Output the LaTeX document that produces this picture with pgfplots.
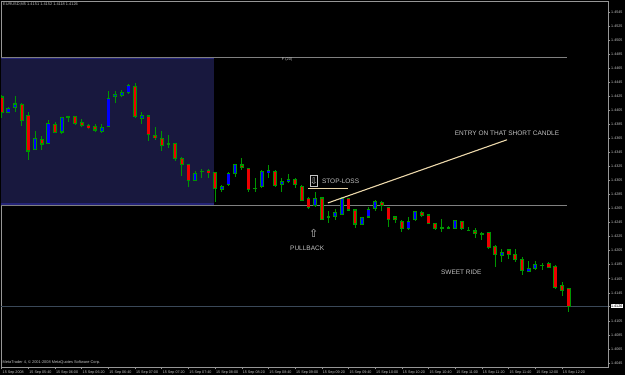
\documentclass[border=0pt]{standalone}
\usepackage{fontspec}
\setmainfont{Liberation Sans}
\newfontfamily\symfont{DejaVu Sans}
\usepackage{pgfplots}
\pgfplotsset{compat=1.18}
\usepackage{pgfplotstable}

\definecolor{cgreen}{RGB}{0,150,0}
\definecolor{cblue}{RGB}{0,0,255}
\definecolor{cred}{RGB}{235,0,0}
\definecolor{navy}{RGB}{24,24,62}
\definecolor{navyb}{RGB}{36,36,120}
\definecolor{fibgray}{RGB}{128,128,128}
\definecolor{bidline}{RGB}{58,72,88}
\definecolor{tanl}{RGB}{235,215,170}
\definecolor{txt}{RGB}{195,195,195}
\definecolor{axcol}{RGB}{150,150,150}

\pgfplotstableread{
i o h l c
0 1.4424 1.4427 1.4394 1.4402
1 1.4402 1.4410 1.4401 1.4408
2 1.4409 1.4425 1.4403 1.4414
3 1.4413 1.4415 1.4383 1.4390
4 1.4397 1.4403 1.4335 1.4347
5 1.4349 1.4376 1.4348 1.4365
6 1.4364 1.4368 1.4349 1.4357
7 1.4358 1.4391 1.4357 1.4386
8 1.4385 1.4389 1.4372 1.4374
9 1.4374 1.4396 1.4371 1.4395
10 1.4396 1.4397 1.4389 1.4396
11 1.4396 1.4397 1.4384 1.4386
12 1.4388 1.4393 1.4382 1.4383
13 1.4384 1.4385 1.4379 1.4380
14 1.4382 1.4385 1.4374 1.4377
15 1.4375 1.4385 1.4373 1.4381
16 1.4382 1.4432 1.4381 1.4422
17 1.4425 1.4432 1.4416 1.4428
18 1.4426 1.4434 1.4424 1.4430
19 1.4431 1.4442 1.4428 1.4441
20 1.4439 1.4444 1.4394 1.4396
21 1.4394 1.4402 1.4385 1.4398
22 1.4397 1.4397 1.4362 1.4370
23 1.4369 1.4381 1.4363 1.4366
24 1.4365 1.4375 1.4347 1.4355
25 1.4357 1.4370 1.4351 1.4357
26 1.4358 1.4358 1.4333 1.4337
27 1.4336 1.4338 1.4312 1.4328
28 1.4328 1.4328 1.4296 1.4305
29 1.4305 1.4318 1.4304 1.4315
30 1.4318 1.4322 1.4308 1.4318
31 1.4319 1.4322 1.4309 1.4316
32 1.4316 1.4316 1.4275 1.4294
33 1.4293 1.4299 1.4289 1.4296
34 1.4299 1.4317 1.4297 1.4315
35 1.4315 1.4329 1.4310 1.4328
36 1.4327 1.4337 1.4320 1.4323
37 1.4322 1.4322 1.4289 1.4292
38 1.4294 1.4308 1.4288 1.4294
39 1.4296 1.4320 1.4295 1.4318
40 1.4316 1.4327 1.4308 1.4319
41 1.4318 1.4320 1.4296 1.4298
42 1.4300 1.4309 1.4289 1.4304
43 1.4303 1.4315 1.4301 1.4307
44 1.4306 1.4308 1.4294 1.4299
45 1.4296 1.4299 1.4276 1.4277
46 1.4280 1.4281 1.4265 1.4267
47 1.4269 1.4289 1.4267 1.4279
48 1.4280 1.4281 1.4249 1.4250
49 1.4253 1.4261 1.4244 1.4253
50 1.4254 1.4265 1.4249 1.4259
51 1.4257 1.4282 1.4256 1.4279
52 1.4279 1.4280 1.4262 1.4263
53 1.4263 1.4264 1.4237 1.4243
54 1.4243 1.4253 1.4242 1.4252
55 1.4253 1.4267 1.4252 1.4264
56 1.4265 1.4277 1.4262 1.4275
57 1.4274 1.4276 1.4262 1.4270
58 1.4267 1.4267 1.4239 1.4249
59 1.4253 1.4255 1.4245 1.4249
60 1.4247 1.4249 1.4231 1.4237
61 1.4236 1.4253 1.4235 1.4247
62 1.4249 1.4262 1.4248 1.4261
63 1.4260 1.4261 1.4253 1.4255
64 1.4256 1.4257 1.4243 1.4244
65 1.4244 1.4245 1.4234 1.4237
66 1.4238 1.4250 1.4232 1.4238
67 1.4238 1.4240 1.4236 1.4238
68 1.4237 1.4249 1.4236 1.4248
69 1.4247 1.4248 1.4235 1.4237
70 1.4234 1.4239 1.4233 1.4234
71 1.4233 1.4237 1.4223 1.4229
72 1.4229 1.4232 1.4220 1.4229
73 1.4231 1.4232 1.4208 1.4210
74 1.4211 1.4213 1.4182 1.4200
75 1.4198 1.4208 1.4189 1.4203
76 1.4206 1.4207 1.4193 1.4200
77 1.4200 1.4207 1.4189 1.4192
78 1.4192 1.4196 1.4171 1.4177
79 1.4175 1.4190 1.4174 1.4180
80 1.4180 1.4190 1.4178 1.4186
81 1.4184 1.4187 1.4177 1.4184
82 1.4187 1.4189 1.4180 1.4181
83 1.4183 1.4184 1.4151 1.4152
84 1.4155 1.4160 1.4141 1.4148
85 1.4151 1.4152 1.4118 1.4126
}\candles

\begin{document}
\begin{tikzpicture}
\path[fill=black, use as bounding box] (-1pt,-8pt) rectangle (624pt,367pt);
\begin{axis}[
  at={(0pt,0pt)}, anchor=south west,
  scale only axis, width=607pt, height=366pt,
  xmin=-0.105, xmax=90.9, ymin=1.40393, ymax=1.45607,
  axis line style={axcol, line width=0.7pt},
  tick style={axcol, line width=0.6pt},
  tick align=outside, major tick length=2.5pt,
  xtick pos=bottom, ytick pos=right, yticklabel pos=right,
  xtick={0,4,...,84},
  xticklabels={15 Sep 2008,15 Sep 05:40,15 Sep 06:00,15 Sep 06:20,15 Sep 06:40,15 Sep 07:00,15 Sep 07:20,15 Sep 07:40,15 Sep 08:00,15 Sep 08:20,15 Sep 08:40,15 Sep 09:00,15 Sep 09:20,15 Sep 09:40,15 Sep 10:00,15 Sep 10:20,15 Sep 10:40,15 Sep 11:00,15 Sep 11:20,15 Sep 11:40,15 Sep 12:00,15 Sep 12:20},
  ytick={1.4045,1.4065,1.4085,1.4105,1.4145,1.4165,1.4185,1.4205,1.4225,1.4245,1.4265,1.4285,1.4305,1.4325,1.4345,1.4365,1.4385,1.4405,1.4425,1.4445,1.4465,1.4485,1.4505,1.4525,1.4545},
  extra y ticks={1.4126},
  extra y tick style={yticklabel style={fill=white, text=black, inner sep=0.4pt}},
  tick label style={font=\fontsize{3.7}{4}\selectfont, text=txt},
  xticklabel style={anchor=north west, inner sep=0.5pt, xshift=0.3pt, yshift=-0.8pt},
  yticklabel style={anchor=west, inner sep=0.5pt},
  /pgf/number format/fixed, /pgf/number format/fixed zerofill,
  /pgf/number format/precision=4, /pgf/number format/assume math mode=true,
  scaled y ticks=false,
  clip=true,
]
% shaded rectangle
\addplot [fill=navy, draw=none] coordinates {(-1,1.4270) (31.83,1.4270) (31.83,1.4481) (-1,1.4481)};
\addplot [navyb, line width=1.4pt] coordinates {(-1,1.44795) (31.83,1.44795)};
\addplot [navyb, line width=1.4pt] coordinates {(-1,1.42715) (31.83,1.42715)};
% level lines
\addplot [fibgray, line width=0.8pt] coordinates {(-1,1.4481) (84.75,1.4481)};
\addplot [fibgray, line width=0.8pt] coordinates {(-1,1.4270) (84.75,1.4270)};
\addplot [bidline, line width=0.8pt] coordinates {(-1,1.4126) (95,1.4126)};
% wicks
\addplot [draw=none, error bars/.cd, y dir=both, y explicit, error mark=none,
  error bar style={draw=cgreen, line width=0.9pt}]
  table [x=i, y expr={(\thisrow{h}+\thisrow{l})/2}, y error expr={(\thisrow{h}-\thisrow{l})/2}] {\candles};
% body outlines
\addplot [draw=none, error bars/.cd, y dir=both, y explicit, error mark=none,
  error bar style={draw=cgreen, line width=3.8pt}]
  table [x=i, y expr={(\thisrow{o}+\thisrow{c})/2}, y error expr={abs(\thisrow{c}-\thisrow{o})/2+0.00008}] {\candles};
% bull bodies
\addplot [draw=none, error bars/.cd, y dir=both, y explicit, error mark=none,
  error bar style={draw=cblue, line width=2.4pt}]
  table [x=i, y expr={\thisrow{c}>\thisrow{o} ? (\thisrow{o}+\thisrow{c})/2 : nan}, y error expr={max((\thisrow{c}-\thisrow{o})/2-0.00008,0)}] {\candles};
% bear bodies
\addplot [draw=none, error bars/.cd, y dir=both, y explicit, error mark=none,
  error bar style={draw=cred, line width=2.4pt}]
  table [x=i, y expr={\thisrow{c}<\thisrow{o} ? (\thisrow{o}+\thisrow{c})/2 : nan}, y error expr={max((\thisrow{o}-\thisrow{c})/2-0.00008,0)}] {\candles};
% annotation lines
\addplot [tanl, line width=1.1pt] coordinates {(48.9,1.4273) (75.76,1.4363)};
\addplot [tanl, line width=1.1pt] coordinates {(45.9,1.4294) (51.9,1.4294)};
% texts
\node [anchor=north west, font=\fontsize{3.9}{4.5}\selectfont, text=txt, inner sep=0pt] at (rel axis cs:0,1) [xshift=2pt, yshift=-2pt] {EURUSD,M5 1.4151 1.4152 1.4118 1.4126};
\node [anchor=south west, font=\fontsize{3.9}{4.5}\selectfont, text=txt, inner sep=0pt] at (rel axis cs:0,0) [xshift=1.5pt, yshift=2pt] {MetaTrader 4, © 2001-2008 MetaQuotes Software Corp.};
\node [anchor=north, font=\fontsize{3.9}{4.5}\selectfont, text=txt, inner sep=0.5pt] at (axis cs:42.8,1.4481) {F (20)};
\node [font=\fontsize{6.5}{7}\selectfont, text=txt] at (axis cs:75.76,1.43726) {ENTRY ON THAT SHORT CANDLE};
\node [anchor=west, font=\fontsize{6.5}{7}\selectfont, text=txt, inner sep=0pt] at (axis cs:48.0,1.43043) {STOP-LOSS};
\node [draw=txt, line width=0.5pt, text=txt, inner sep=0pt, minimum width=7pt, minimum height=11pt, font=\symfont\fontsize{9}{10}\selectfont] at (axis cs:46.8,1.43043) {⇩};
\node [text=txt, inner sep=0pt, font=\symfont\fontsize{11}{12}\selectfont] at (axis cs:46.8,1.42302) {⇧};
\node [font=\fontsize{6.5}{7}\selectfont, text=txt] at (axis cs:45.8,1.42088) {PULLBACK};
\node [font=\fontsize{6.5}{7}\selectfont, text=txt] at (axis cs:68.9,1.41746) {SWEET RIDE};
\end{axis}
\end{tikzpicture}
\end{document}
